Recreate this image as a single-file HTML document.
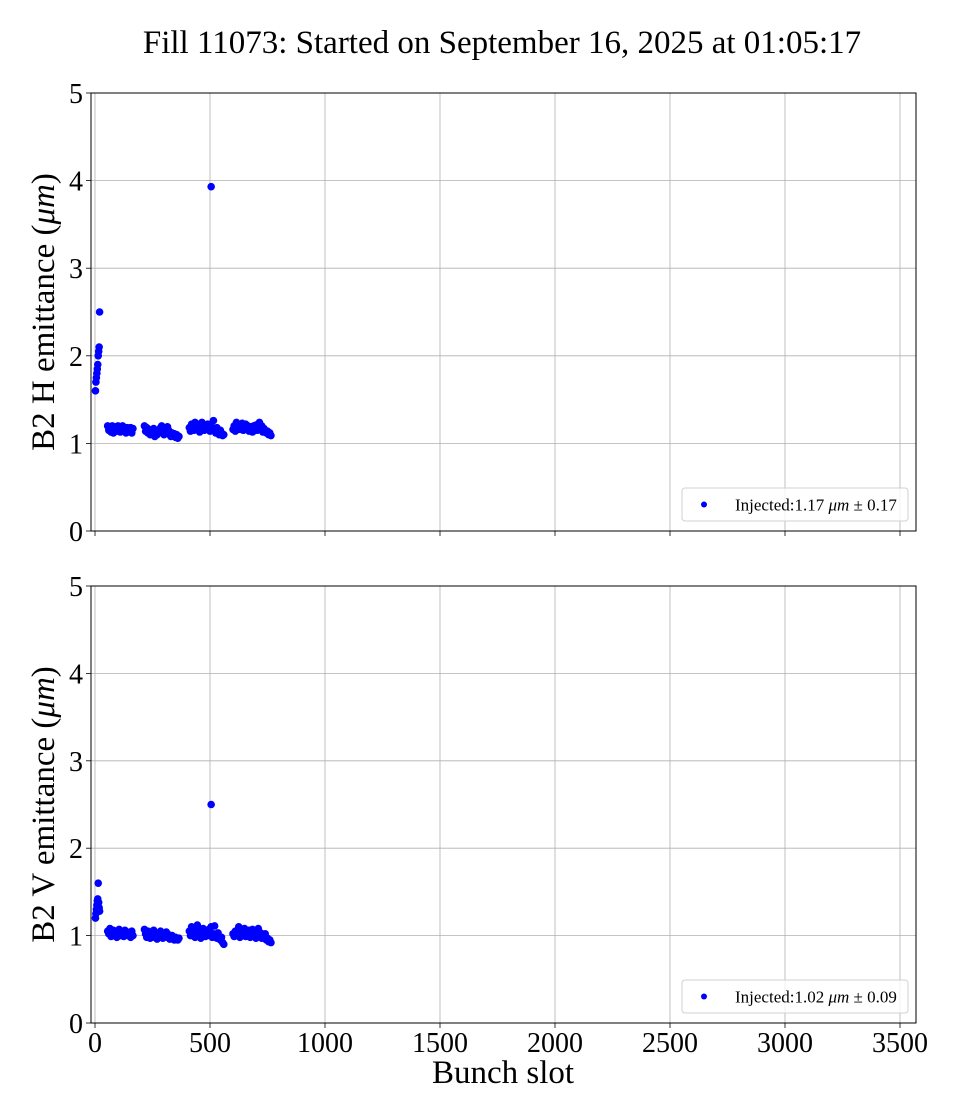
<!DOCTYPE html>
<html><head><meta charset="utf-8"><style>
body{margin:0;background:#fff}
svg{display:block;font-family:"Liberation Serif",serif}
</style></head><body>
<svg id="c" width="960" height="1120" viewBox="0 0 960 1120">
<text x="502" y="53" font-size="33" text-anchor="middle">Fill 11073: Started on September 16, 2025 at 01:05:17</text>
</svg>
<script>
const xTicks=[0,500,1000,1500,2000,2500,3000,3500];
const yTicks=[0,1,2,3,4,5];
const slotsHead=[2,4,6,8,10,12,14,16,18,20];
const hHead=[1.6,1.7,1.75,1.8,1.85,1.9,2.0,2.05,2.1,2.5];
const vHead=[1.2,1.25,1.3,1.35,1.4,1.42,1.6,1.38,1.32,1.28];
const slotsTrain=[55,60,65,70,75,80,85,90,95,100,105,110,115,120,125,130,135,140,145,150,155,160,165,
215,220,225,230,235,240,245,250,255,260,265,270,275,280,285,290,295,300,305,310,315,320,325,330,335,340,345,350,355,360,365,
410,415,420,425,430,435,440,445,450,455,460,465,470,475,480,485,490,495,500,505,510,515,520,525,530,535,540,545,550,555,560,
600,605,610,615,620,625,630,635,640,645,650,655,660,665,670,675,680,685,690,695,700,705,710,715,720,725,730,735,740,745,750,755,760,765];
const hTrain=[1.2,1.15,1.18,1.13,1.2,1.12,1.17,1.19,1.14,1.2,1.16,1.13,1.19,1.2,1.15,1.17,1.12,1.18,1.16,1.14,1.18,1.12,1.17,
1.2,1.14,1.18,1.12,1.16,1.1,1.15,1.13,1.17,1.08,1.12,1.1,1.15,1.13,1.18,1.2,1.14,1.1,1.16,1.12,1.19,1.15,1.1,1.08,1.12,1.09,1.11,1.07,1.1,1.06,1.08,
1.18,1.14,1.22,1.2,1.15,1.24,1.18,1.22,1.2,1.13,1.17,1.24,1.2,1.15,1.19,1.16,1.22,1.18,1.14,1.2,1.17,1.26,1.15,1.12,1.18,1.14,1.1,1.15,1.12,1.09,1.1,
1.16,1.2,1.14,1.24,1.18,1.22,1.16,1.2,1.23,1.15,1.18,1.22,1.17,1.2,1.14,1.19,1.16,1.13,1.2,1.17,1.21,1.15,1.18,1.24,1.16,1.2,1.13,1.17,1.15,1.12,1.14,1.1,1.12,1.09];
const vTrain=[1.05,1.02,1.08,0.99,1.04,1.06,1.0,1.05,0.98,1.03,1.07,1.0,1.05,1.02,0.99,1.06,1.01,1.04,1.0,1.03,0.98,1.05,1.0,
1.07,1.02,0.98,1.05,1.0,0.97,1.03,1.0,1.06,0.98,1.02,0.96,1.0,1.03,1.05,0.99,0.97,1.02,1.0,1.04,0.98,1.01,0.96,0.99,1.0,0.97,0.95,0.98,0.96,0.95,0.97,
1.05,1.0,1.1,1.02,1.08,0.98,1.04,1.12,1.0,1.06,0.97,1.03,1.08,1.01,0.99,1.05,1.0,1.07,1.03,1.1,0.98,1.02,1.11,1.0,0.97,1.03,0.99,0.95,0.98,0.92,0.9,
1.02,0.99,1.05,1.01,1.03,1.1,0.98,1.05,1.0,1.03,1.08,0.99,1.04,1.0,1.06,0.98,1.02,1.07,1.0,1.03,0.97,1.05,1.08,1.0,1.03,0.97,1.0,0.98,1.02,0.95,0.97,0.93,0.95,0.92];
const outSlot=[505];
const hOut=[3.93];
const vOut=[2.5];

const svg=document.getElementById('c');
const NS='http://www.w3.org/2000/svg';
function mk(t,a,p){const e=document.createElementNS(NS,t);for(const k in a)e.setAttribute(k,a[k]);(p||svg).appendChild(e);return e;}
const X0=91,X1=916;
function xs(v){return 95+v*0.23;}
function panel(top,bot,name,ylab,hv,vOutArr,legendText,showX){
  const g=mk('g',{});
  
  
  function ys(v){return bot-v*(bot-top)/5;}
  xTicks.forEach(t=>{const l=mk('line',{x1:xs(t),x2:xs(t),y1:top,y2:bot,stroke:'#b0b0b0','stroke-width':0.8},g);
    const tk=mk('line',{x1:xs(t),x2:xs(t),y1:bot,y2:bot+5,stroke:'#000','stroke-width':0.8},g);
    if(showX){const tx=mk('text',{x:xs(t),y:bot+29,'font-size':28,'text-anchor':'middle'},g);tx.textContent=t;}});
  yTicks.forEach(t=>{const l=mk('line',{x1:X0,x2:X1,y1:ys(t),y2:ys(t),stroke:'#b0b0b0','stroke-width':0.8},g);
    const tk=mk('line',{x1:X0-5,x2:X0,y1:ys(t),y2:ys(t),stroke:'#000','stroke-width':0.8},g);
    const tx=mk('text',{x:X0-8,y:ys(t)+10,'font-size':28,'text-anchor':'end'},g);tx.textContent=t;});
  const fr=mk('rect',{x:X0,y:top,width:X1-X0,height:bot-top,fill:'none',stroke:'#000','stroke-width':1},g);
  
  const yl=mk('text',{x:0,y:0,'font-size':33,'text-anchor':'middle',transform:`translate(54,${(top+bot)/2}) rotate(-90)`},g);
  yl.innerHTML=ylab+' emittance (<tspan font-style="italic">μm</tspan>)';
  
  const pts=[];
  slotsHead.forEach((s,i)=>pts.push([s,hv[0][i]]));
  slotsTrain.forEach((s,i)=>pts.push([s,hv[1][i]]));
  outSlot.forEach((s,i)=>pts.push([s,vOutArr[i]]));
  pts.forEach(p=>{const c=mk('circle',{cx:xs(p[0]),cy:ys(p[1]),r:3.8,fill:'#0000ff'},g);
    });
  const lg=mk('g',{},g);
  mk('rect',{x:682,y:bot-43,width:226,height:33,rx:3,fill:'#fff','fill-opacity':0.8,stroke:'#d0d0d0'},lg);
  mk('circle',{cx:704,cy:bot-26.5,r:3,fill:'#0000ff'},lg);
  const lt=mk('text',{x:735,y:bot-20.5,'font-size':17},lg);
  lt.innerHTML=legendText;
  
}
panel(93,531,'top-panel-h','B2 H',[hHead,hTrain],hOut,'Injected:1.17 <tspan font-style="italic">μm</tspan> ± 0.17',false);
panel(586,1023,'bottom-panel-v','B2 V',[vHead,vTrain],vOut,'Injected:1.02 <tspan font-style="italic">μm</tspan> ± 0.09',true);
const xl=mk('text',{x:503,y:1083,'font-size':33,'text-anchor':'middle'});
xl.textContent='Bunch slot';


</script>
</body></html>
